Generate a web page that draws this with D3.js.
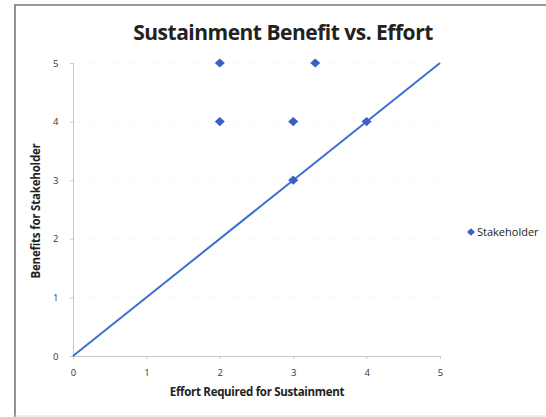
<!DOCTYPE html>
<html><head><meta charset="utf-8">
<script src="https://cdn.jsdelivr.net/npm/d3@7"></script>
<style>body{margin:0;background:#fff;} svg{display:block;}</style>
</head><body>
<svg id="c" width="546" height="417"></svg>
<script>
const title = "Sustainment Benefit vs. Effort";
const xLabel = "Effort Required for Sustainment";
const yLabel = "Benefits for Stakeholder";
const seriesName = "Stakeholder";
const effort = [2, 3.3, 2, 3, 3, 4];
const benefit = [5, 5, 4, 4, 3, 4];
const lineX = [0, 5];
const lineY = [0, 5];
const xTicks = [0, 1, 2, 3, 4, 5];
const yTicks = [0, 1, 2, 3, 4, 5];

const svg = d3.select("#c");
const font = "'Open Sans', 'Liberation Sans', sans-serif";
// chart frame
svg.append("path").attr("d","M15,417 L15,5 L546,5").attr("fill","none").attr("stroke","#777").attr("stroke-width",1.6);
svg.append("line").attr("x1",15).attr("x2",546).attr("y1",416).attr("y2",416).attr("stroke","#ddd");

const x = d3.scaleLinear().domain([0,5]).range([73,440]);
const y = d3.scaleLinear().domain([0,5]).range([356,63]);

// gridlines
svg.append("g").selectAll("line").data(yTicks.filter(d=>d>0)).join("line")
  .attr("x1",x(0)).attr("x2",x(5)).attr("y1",d=>y(d)).attr("y2",d=>y(d))
  .attr("stroke","#f4f4f4").attr("stroke-dasharray","2,3");

// axes
const xa = svg.append("g").attr("transform",`translate(0,${y(0)})`)
  .call(d3.axisBottom(x).tickValues(xTicks).tickSize(3).tickFormat(d3.format("d")));
const ya = svg.append("g").attr("transform",`translate(${x(0)},0)`)
  .call(d3.axisLeft(y).tickValues(yTicks).tickSize(3).tickFormat(d3.format("d")));
[xa,ya].forEach(g=>{
  g.select(".domain").attr("stroke","#c8c8c8");
  g.selectAll(".tick line").attr("stroke","#c8c8c8");
  g.selectAll(".tick text").attr("font-family",font).attr("font-size",9.5).attr("fill","#333");
});
xa.selectAll(".tick text").attr("dy","1.5em");
ya.selectAll(".tick text").attr("dx","-0.9em");

// line
svg.append("path").datum(d3.zip(lineX,lineY))
  .attr("d", d3.line().x(d=>x(d[0])).y(d=>y(d[1])))
  .attr("fill","none").attr("stroke","#3b6fd4").attr("stroke-width",2);

// points
const diamond = "M0,-4.6L5,0L0,4.6L-5,0Z";
svg.append("g").selectAll("path").data(d3.zip(effort,benefit)).join("path")
  .attr("d",diamond).attr("transform",d=>`translate(${x(d[0])},${y(d[1])})`)
  .attr("fill","#3a5fc8");

// titles
svg.append("text").attr("x",283).attr("y",40).attr("text-anchor","middle")
  .attr("font-family",font).attr("font-weight","bold").attr("font-size",21).attr("fill","#222")
  .attr("letter-spacing","-0.5").text(title);
svg.append("text").attr("x",257).attr("y",396).attr("text-anchor","middle")
  .attr("font-family",font).attr("font-weight","bold").attr("font-size",11.5).attr("fill","#222")
  .attr("letter-spacing","-0.3").text(xLabel);
svg.append("text").attr("transform","translate(40,211) rotate(-90)").attr("text-anchor","middle")
  .attr("font-family",font).attr("font-weight","bold").attr("font-size",11.5).attr("fill","#222")
  .attr("letter-spacing","-0.2").text(yLabel);

// legend
svg.append("path").attr("d","M0,-3.8L4,0L0,3.8L-4,0Z").attr("transform","translate(471,232)").attr("fill","#3a5fc8");
svg.append("text").attr("x",477).attr("y",236).attr("font-family",font).attr("font-size",11).attr("fill","#222").text(seriesName);
</script>
</body></html>
